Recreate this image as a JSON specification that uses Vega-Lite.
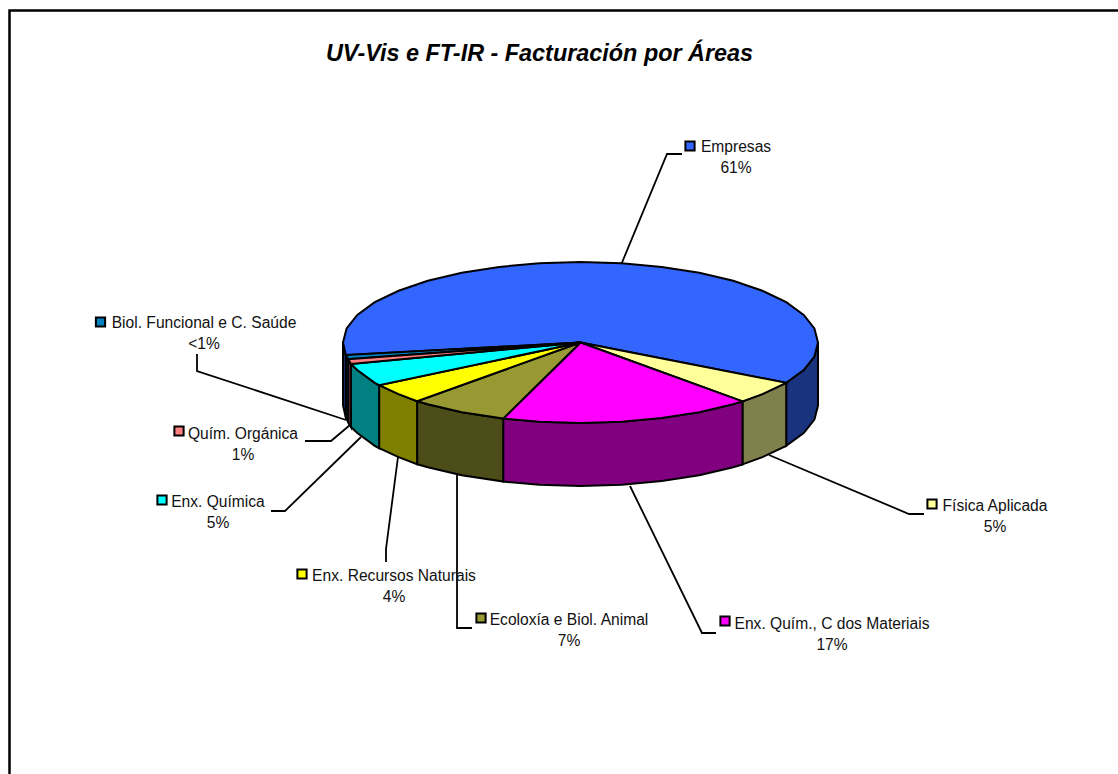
{"$schema":"https://vega.github.io/schema/vega-lite/v6.json","width":1118,"height":774,"padding":0,"autosize":{"type":"none"},"background":"white","title":{"text":"UV-Vis e FT-IR - Facturación por Áreas","font":"Liberation Sans","fontSize":23.4,"fontWeight":"bold","fontStyle":"italic","color":"black","anchor":"middle","frame":"group","offset":-66,"dx":-19.5},"view":{"stroke":null},"datasets":{"frame":[{"x":1118,"y":10.5,"i":0},{"x":9.5,"y":10.5,"i":1},{"x":9.5,"y":774,"i":2}],"leaders":[{"area":"Empresas","i":0,"x":621,"y":265},{"area":"Empresas","i":1,"x":667,"y":154},{"area":"Empresas","i":2,"x":682,"y":154},{"area":"Física Aplicada","i":0,"x":769,"y":455},{"area":"Física Aplicada","i":1,"x":909,"y":514},{"area":"Física Aplicada","i":2,"x":924,"y":514},{"area":"Enx. Quím., C dos Materiais","i":0,"x":630,"y":486},{"area":"Enx. Quím., C dos Materiais","i":1,"x":702,"y":633},{"area":"Enx. Quím., C dos Materiais","i":2,"x":716,"y":633},{"area":"Ecoloxía e Biol. Animal","i":0,"x":457,"y":474},{"area":"Ecoloxía e Biol. Animal","i":1,"x":457,"y":628},{"area":"Ecoloxía e Biol. Animal","i":2,"x":472,"y":628},{"area":"Enx. Recursos Naturais","i":0,"x":398,"y":457},{"area":"Enx. Recursos Naturais","i":1,"x":386,"y":549},{"area":"Enx. Recursos Naturais","i":2,"x":386,"y":562},{"area":"Enx. Química","i":0,"x":271,"y":511},{"area":"Enx. Química","i":1,"x":285,"y":511},{"area":"Enx. Química","i":2,"x":361,"y":437},{"area":"Quím. Orgánica","i":0,"x":305,"y":441},{"area":"Quím. Orgánica","i":1,"x":331,"y":441},{"area":"Quím. Orgánica","i":2,"x":350,"y":425},{"area":"Biol. Funcional e C. Saúde","i":0,"x":197,"y":354},{"area":"Biol. Funcional e C. Saúde","i":1,"x":197,"y":371},{"area":"Biol. Funcional e C. Saúde","i":2,"x":346,"y":420}],"walls":[
{"part":"Empresas lateral","i":0,"x":818,"y":342.5},{"part":"Empresas lateral","i":1,"x":814.4,"y":356.5},{"part":"Empresas lateral","i":2,"x":803.7,"y":370},{"part":"Empresas lateral","i":3,"x":786.2,"y":382.8},{"part":"Empresas lateral","i":4,"x":786.2,"y":445.8},{"part":"Empresas lateral","i":5,"x":803.7,"y":433},{"part":"Empresas lateral","i":6,"x":814.4,"y":419.5},{"part":"Empresas lateral","i":7,"x":818,"y":405.5},{"part":"Empresas lateral","i":8,"x":818,"y":342.5},
{"part":"Empresas lateral esq","i":0,"x":345.9,"y":355.1},{"part":"Empresas lateral esq","i":1,"x":343,"y":342.5},{"part":"Empresas lateral esq","i":2,"x":343,"y":405.5},{"part":"Empresas lateral esq","i":3,"x":345.9,"y":418.1},{"part":"Empresas lateral esq","i":4,"x":345.9,"y":355.1},
{"part":"Física lateral","i":0,"x":786.2,"y":382.8},{"part":"Física lateral","i":1,"x":762.4,"y":394.2},{"part":"Física lateral","i":2,"x":742.5,"y":401.4},{"part":"Física lateral","i":3,"x":742.5,"y":464.4},{"part":"Física lateral","i":4,"x":762.4,"y":457.2},{"part":"Física lateral","i":5,"x":786.2,"y":445.8},{"part":"Física lateral","i":6,"x":786.2,"y":382.8},
{"part":"Materiais lateral","i":0,"x":742.5,"y":401.4},{"part":"Materiais lateral","i":1,"x":733.2,"y":404.2},{"part":"Materiais lateral","i":2,"x":699.3,"y":412.2},{"part":"Materiais lateral","i":3,"x":661.7,"y":418.1},{"part":"Materiais lateral","i":4,"x":621.7,"y":421.8},{"part":"Materiais lateral","i":5,"x":580.5,"y":423},{"part":"Materiais lateral","i":6,"x":539.3,"y":421.8},{"part":"Materiais lateral","i":7,"x":503.2,"y":418.6},{"part":"Materiais lateral","i":8,"x":503.2,"y":481.6},{"part":"Materiais lateral","i":9,"x":539.3,"y":484.8},{"part":"Materiais lateral","i":10,"x":580.5,"y":486},{"part":"Materiais lateral","i":11,"x":621.7,"y":484.8},{"part":"Materiais lateral","i":12,"x":661.7,"y":481.1},{"part":"Materiais lateral","i":13,"x":699.3,"y":475.2},{"part":"Materiais lateral","i":14,"x":733.2,"y":467.2},{"part":"Materiais lateral","i":15,"x":742.5,"y":464.4},{"part":"Materiais lateral","i":16,"x":742.5,"y":401.4},
{"part":"Ecoloxía lateral","i":0,"x":503.2,"y":418.6},{"part":"Ecoloxía lateral","i":1,"x":461.8,"y":412.2},{"part":"Ecoloxía lateral","i":2,"x":427.8,"y":404.2},{"part":"Ecoloxía lateral","i":3,"x":417.1,"y":401.2},{"part":"Ecoloxía lateral","i":4,"x":417.1,"y":464.2},{"part":"Ecoloxía lateral","i":5,"x":427.8,"y":467.2},{"part":"Ecoloxía lateral","i":6,"x":461.8,"y":475.2},{"part":"Ecoloxía lateral","i":7,"x":503.2,"y":481.6},{"part":"Ecoloxía lateral","i":8,"x":503.2,"y":418.6},
{"part":"Recursos lateral","i":0,"x":417.1,"y":401.2},{"part":"Recursos lateral","i":1,"x":398.6,"y":394.2},{"part":"Recursos lateral","i":2,"x":379.1,"y":385.2},{"part":"Recursos lateral","i":3,"x":379.1,"y":448.2},{"part":"Recursos lateral","i":4,"x":398.6,"y":457.2},{"part":"Recursos lateral","i":5,"x":417.1,"y":464.2},{"part":"Recursos lateral","i":6,"x":417.1,"y":401.2},
{"part":"Química lateral","i":0,"x":379.1,"y":385.2},{"part":"Química lateral","i":1,"x":374.8,"y":382.8},{"part":"Química lateral","i":2,"x":357.3,"y":370},{"part":"Química lateral","i":3,"x":351,"y":364},{"part":"Química lateral","i":4,"x":351,"y":427},{"part":"Química lateral","i":5,"x":357.3,"y":433},{"part":"Química lateral","i":6,"x":374.8,"y":445.8},{"part":"Química lateral","i":7,"x":379.1,"y":448.2},{"part":"Química lateral","i":8,"x":379.1,"y":385.2},
{"part":"Orgánica lateral","i":0,"x":351,"y":364},{"part":"Orgánica lateral","i":1,"x":348.2,"y":359.2},{"part":"Orgánica lateral","i":2,"x":348.2,"y":422.2},{"part":"Orgánica lateral","i":3,"x":351,"y":427},{"part":"Orgánica lateral","i":4,"x":351,"y":364},
{"part":"Biol lateral","i":0,"x":348.2,"y":359.2},{"part":"Biol lateral","i":1,"x":345.9,"y":355.1},{"part":"Biol lateral","i":2,"x":345.9,"y":418.1},{"part":"Biol lateral","i":3,"x":348.2,"y":422.2},{"part":"Biol lateral","i":4,"x":348.2,"y":359.2}],"tops":[
{"part":"Empresas","i":0,"x":580.5,"y":342.5},{"part":"Empresas","i":1,"x":345.9,"y":355.1},{"part":"Empresas","i":2,"x":343,"y":342.5},{"part":"Empresas","i":3,"x":346.6,"y":328.5},{"part":"Empresas","i":4,"x":357.3,"y":315},{"part":"Empresas","i":5,"x":374.8,"y":302.2},{"part":"Empresas","i":6,"x":398.6,"y":290.8},{"part":"Empresas","i":7,"x":427.8,"y":280.8},{"part":"Empresas","i":8,"x":461.8,"y":272.8},{"part":"Empresas","i":9,"x":499.3,"y":266.9},{"part":"Empresas","i":10,"x":539.3,"y":263.2},{"part":"Empresas","i":11,"x":580.5,"y":262},{"part":"Empresas","i":12,"x":621.7,"y":263.2},{"part":"Empresas","i":13,"x":661.7,"y":266.9},{"part":"Empresas","i":14,"x":699.3,"y":272.8},{"part":"Empresas","i":15,"x":733.2,"y":280.8},{"part":"Empresas","i":16,"x":762.4,"y":290.8},{"part":"Empresas","i":17,"x":786.2,"y":302.2},{"part":"Empresas","i":18,"x":803.7,"y":315},{"part":"Empresas","i":19,"x":814.4,"y":328.5},{"part":"Empresas","i":20,"x":818,"y":342.5},{"part":"Empresas","i":21,"x":814.4,"y":356.5},{"part":"Empresas","i":22,"x":803.7,"y":370},{"part":"Empresas","i":23,"x":786.2,"y":382.8},{"part":"Empresas","i":24,"x":580.5,"y":342.5},
{"part":"Física Aplicada","i":0,"x":580.5,"y":342.5},{"part":"Física Aplicada","i":1,"x":786.2,"y":382.8},{"part":"Física Aplicada","i":2,"x":762.4,"y":394.2},{"part":"Física Aplicada","i":3,"x":742.5,"y":401.4},{"part":"Física Aplicada","i":4,"x":580.5,"y":342.5},
{"part":"Enx. Quím., C dos Materiais","i":0,"x":580.5,"y":342.5},{"part":"Enx. Quím., C dos Materiais","i":1,"x":742.5,"y":401.4},{"part":"Enx. Quím., C dos Materiais","i":2,"x":733.2,"y":404.2},{"part":"Enx. Quím., C dos Materiais","i":3,"x":699.3,"y":412.2},{"part":"Enx. Quím., C dos Materiais","i":4,"x":661.7,"y":418.1},{"part":"Enx. Quím., C dos Materiais","i":5,"x":621.7,"y":421.8},{"part":"Enx. Quím., C dos Materiais","i":6,"x":580.5,"y":423},{"part":"Enx. Quím., C dos Materiais","i":7,"x":539.3,"y":421.8},{"part":"Enx. Quím., C dos Materiais","i":8,"x":503.2,"y":418.6},{"part":"Enx. Quím., C dos Materiais","i":9,"x":580.5,"y":342.5},
{"part":"Ecoloxía e Biol. Animal","i":0,"x":580.5,"y":342.5},{"part":"Ecoloxía e Biol. Animal","i":1,"x":503.2,"y":418.6},{"part":"Ecoloxía e Biol. Animal","i":2,"x":461.8,"y":412.2},{"part":"Ecoloxía e Biol. Animal","i":3,"x":427.8,"y":404.2},{"part":"Ecoloxía e Biol. Animal","i":4,"x":417.1,"y":401.2},{"part":"Ecoloxía e Biol. Animal","i":5,"x":580.5,"y":342.5},
{"part":"Enx. Recursos Naturais","i":0,"x":580.5,"y":342.5},{"part":"Enx. Recursos Naturais","i":1,"x":417.1,"y":401.2},{"part":"Enx. Recursos Naturais","i":2,"x":398.6,"y":394.2},{"part":"Enx. Recursos Naturais","i":3,"x":379.1,"y":385.2},{"part":"Enx. Recursos Naturais","i":4,"x":580.5,"y":342.5},
{"part":"Enx. Química","i":0,"x":580.5,"y":342.5},{"part":"Enx. Química","i":1,"x":379.1,"y":385.2},{"part":"Enx. Química","i":2,"x":374.8,"y":382.8},{"part":"Enx. Química","i":3,"x":357.3,"y":370},{"part":"Enx. Química","i":4,"x":351,"y":364},{"part":"Enx. Química","i":5,"x":580.5,"y":342.5},
{"part":"Biol. Funcional e C. Saúde","i":0,"x":580.5,"y":342.5},{"part":"Biol. Funcional e C. Saúde","i":1,"x":348.2,"y":359.2},{"part":"Biol. Funcional e C. Saúde","i":2,"x":345.9,"y":355.1},{"part":"Biol. Funcional e C. Saúde","i":3,"x":580.5,"y":342.5},
{"part":"Quím. Orgánica","i":0,"x":580.5,"y":342.5},{"part":"Quím. Orgánica","i":1,"x":351,"y":364},{"part":"Quím. Orgánica","i":2,"x":348.2,"y":359.2},{"part":"Quím. Orgánica","i":3,"x":580.5,"y":342.5}],"labels":[
{"part":"Empresas","share":"61%","x":736,"y":152,"kx":690,"ky":146},{"part":"Física Aplicada","share":"5%","x":995,"y":511,"kx":932,"ky":504},{"part":"Enx. Quím., C dos Materiais","share":"17%","x":832,"y":629,"kx":725,"ky":621},{"part":"Ecoloxía e Biol. Animal","share":"7%","x":569,"y":625,"kx":481,"ky":618},{"part":"Enx. Recursos Naturais","share":"4%","x":394,"y":581,"kx":302,"ky":574},{"part":"Enx. Química","share":"5%","x":218,"y":507,"kx":162,"ky":500},{"part":"Quím. Orgánica","share":"1%","x":243,"y":439,"kx":179,"ky":431},{"part":"Biol. Funcional e C. Saúde","share":"<1%","x":204,"y":328,"kx":100.5,"ky":322}]},"encoding":{"x":{"field":"x","type":"quantitative","scale":{"domain":[0,1118],"nice":false,"zero":false},"axis":null},"y":{"field":"y","type":"quantitative","scale":{"domain":[0,774],"reverse":true,"nice":false,"zero":false},"axis":null}},"layer":[{"data":{"name":"frame"},"mark":{"type":"line","stroke":"black","strokeWidth":2.5},"encoding":{"order":{"field":"i"}}},{"data":{"name":"leaders"},"mark":{"type":"line","stroke":"black","strokeWidth":1.8},"encoding":{"detail":{"field":"area"},"order":{"field":"i"}}},{"data":{"name":"walls"},"mark":{"type":"line","stroke":"black","strokeWidth":2},"encoding":{"detail":{"field":"part"},"order":{"field":"i"},"fill":{"field":"part","type":"nominal","legend":null,"scale":{"domain":["Empresas","Física Aplicada","Enx. Quím., C dos Materiais","Ecoloxía e Biol. Animal","Enx. Recursos Naturais","Enx. Química","Quím. Orgánica","Biol. Funcional e C. Saúde","Empresas lateral","Empresas lateral esq","Física lateral","Materiais lateral","Ecoloxía lateral","Recursos lateral","Química lateral","Orgánica lateral","Biol lateral"],"range":["#3366FF","#FFFF99","#FF00FF","#999933","#FFFF00","#00FFFF","#FF8080","#0080C0","#1A337F","#1A337F","#80804D","#800080","#4D4D1A","#808000","#008080","#804040","#004060"]}}}},{"data":{"name":"tops"},"mark":{"type":"line","stroke":"black","strokeWidth":2},"encoding":{"detail":{"field":"part"},"order":{"field":"i"},"fill":{"field":"part","type":"nominal","legend":null}}},{"data":{"name":"labels"},"mark":{"type":"point","shape":"square","filled":true,"stroke":"black","strokeWidth":2,"size":85,"opacity":1},"encoding":{"x":{"field":"kx","type":"quantitative"},"y":{"field":"ky","type":"quantitative"},"fill":{"field":"part","type":"nominal","legend":null}}},{"data":{"name":"labels"},"mark":{"type":"text","font":"Liberation Sans","fontSize":15.6,"align":"center","baseline":"alphabetic","color":"#111"},"encoding":{"text":{"field":"part"}}},{"data":{"name":"labels"},"mark":{"type":"text","font":"Liberation Sans","fontSize":15.6,"align":"center","baseline":"alphabetic","color":"#111","dy":21},"encoding":{"text":{"field":"share"}}}],"resolve":{"scale":{"fill":"shared"}}}
